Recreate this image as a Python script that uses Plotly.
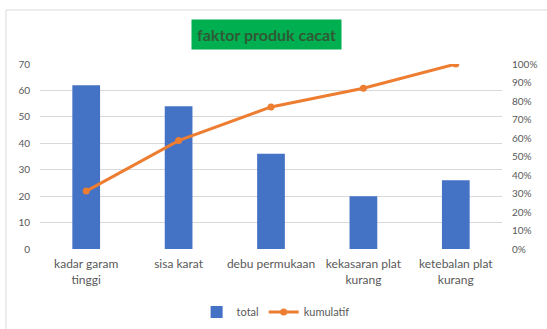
import plotly.graph_objects as go

categories = ["kadar garam tinggi", "sisa karat", "debu permukaan", "kekasaran plat kurang", "ketebalan plat kurang"]
tick_labels = ["kadar garam<br>tinggi", "sisa karat", "debu permukaan", "kekasaran plat<br>kurang", "ketebalan plat<br>kurang"]
total = [62, 54, 36, 20, 26]
kumulatif = [0.313, 0.586, 0.768, 0.869, 1.0]

FONT = "Lato"
GRAY = "#595959"

fig = go.Figure()
fig.add_trace(go.Bar(x=categories, y=total, name="total", marker=dict(color="#4472C4", line=dict(width=0)), yaxis="y"))
fig.add_trace(go.Scatter(x=categories, y=kumulatif, name="kumulatif", mode="lines+markers",
                         line=dict(color="#ED7D31", width=3), marker=dict(color="#ED7D31", size=7), yaxis="y2"))

fig.update_layout(
    width=547, height=329,
    margin=dict(l=40, r=45, t=64, b=80, autoexpand=False),
    paper_bgcolor="white", plot_bgcolor="white",
    font=dict(family=FONT, size=10, color=GRAY),
    bargap=0.7,
    showlegend=True,
    legend=dict(orientation="h", x=0.51, xanchor="center", y=-0.34, yanchor="middle",
                font=dict(size=11, color=GRAY), itemwidth=30, traceorder="normal"),
    xaxis=dict(tickmode="array", tickvals=categories, ticktext=tick_labels, showgrid=False, automargin=False,
               showline=False, ticks="", ticklabelstandoff=6, tickfont=dict(size=12, color=GRAY)),
    yaxis=dict(range=[0, 70], dtick=10, showgrid=True, gridcolor="#D9D9D9", gridwidth=1, automargin=False,
               zeroline=False, showline=False, ticks="", ticklabelstandoff=9, tickfont=dict(size=10, color=GRAY)),
    yaxis2=dict(range=[0, 1], dtick=0.1, tickformat=".0%", overlaying="y", side="right", automargin=False,
                showgrid=False, zeroline=False, showline=False, ticks="", ticklabelstandoff=9,
                tickfont=dict(size=10, color=GRAY)),
    annotations=[dict(text="<b>faktor produk cacat</b>", xref="paper", yref="paper",
                      x=(266 - 40) / 462, y=(249 - 34) / 185, xanchor="center", yanchor="middle",
                      showarrow=False, bgcolor="#00B050", font=dict(size=16, color="#2F5A36", family=FONT),
                      borderpad=5)],
    shapes=[dict(type="rect", xref="paper", yref="paper",
                 x0=(6 - 40) / 462, x1=(560 - 40) / 462, y0=(249 - 340) / 185, y1=(249 - 10) / 185,
                 line=dict(color="#D9D9D9", width=1), fillcolor="rgba(0,0,0,0)", layer="below")],
)

fig.write_html("out.html")
